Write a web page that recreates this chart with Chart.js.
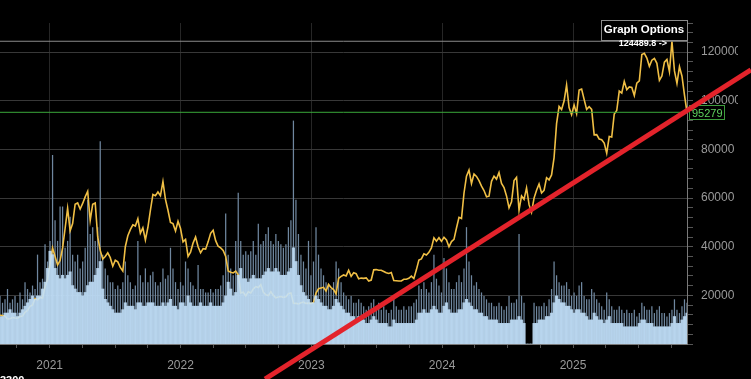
<!DOCTYPE html>
<html>
<head>
<meta charset="utf-8">
<script src="https://cdn.jsdelivr.net/npm/chart.js@4.4.0/dist/chart.umd.min.js"></script>
<style>
  html, body { margin: 0; padding: 0; background: #000; overflow: hidden; }
  #wrap { width: 751px; height: 379px; }
</style>
</head>
<body>
<div id="wrap"><canvas id="priceChart" width="751" height="379"></canvas></div>
<script>
// weekly samples, first week is 2020-08-15
const firstWeek = [2020, 7, 15];

// price (USD), weekly
const price = [
  // 2020
  11800, 11700, 11500, 10300, 10400, 10900, 10700, 10600, 11300, 11500, 13000, 13800, 15500, 16000, 18700, 18200, 19100, 18900, 23500, 26500,
  // 2021
  33000, 39500, 36000, 32500, 34300, 39500, 47500, 55800, 46500, 49500, 57500, 58000, 55500, 57800, 60500, 62800, 50800,
  57500, 58000, 44000, 38500, 35000, 36000, 37500, 35500, 32000, 34500, 33800, 31500, 30000, 40000, 44500, 47000, 49000, 48500,
  51500, 45500, 47800, 42800, 48000, 55000, 61500, 61000, 62500, 61000, 66800, 59500, 55000, 50000, 49500, 46500, 50500,
  // 2022
  47500, 42000, 43000, 36000, 37800, 41500, 44000, 40000, 37500, 39200, 39000, 42000, 45500, 46800, 42500, 40200, 39500, 38500,
  36000, 30000, 29500, 29200, 30000, 28500, 21000, 21300, 19800, 21500, 21000, 22600, 23600, 23200, 24400, 21300, 20200,
  19900, 21500, 20000, 19000, 19300, 19500, 19200, 19400, 20700, 21000, 16800, 16700, 16500, 17000, 17200, 16700, 16800, 16600,
  // 2023
  17000, 20900, 22700, 23000, 23300, 21800, 24500, 23200, 22400, 20600, 27000, 27800, 28400, 28000, 30300, 27800, 29300,
  28900, 26800, 27100, 27000, 27200, 25900, 26300, 30500, 30600, 30300, 30300, 29800, 29300, 29000, 29400, 26100, 26000,
  25900, 25900, 26600, 26600, 27000, 27900, 26900, 30500, 34500, 35000, 37100, 36600, 37700, 39500, 43700, 42300, 43700, 42200,
  // 2024
  43900, 42800, 40000, 42100, 43000, 47700, 52100, 51600, 62000, 69000, 71500, 66000, 69900, 68900, 67200, 64900, 63100,
  60500, 60800, 66900, 69000, 67800, 70500, 66000, 64300, 60900, 56000, 58500, 67200, 68500, 55000, 60900, 59500, 64200, 57300,
  54200, 60000, 63200, 65800, 62100, 63200, 68400, 67500, 69500, 76600, 90600, 97700, 96400, 99900, 106500, 97200, 94300,
  // 2025
  98300, 94700, 104400, 104800, 100600, 96500, 97600, 96500, 86000, 86100, 84300, 84000, 82600, 78500, 85300, 85100, 94600,
  96000, 104000, 103200, 108000, 104600, 105700, 105500, 102200, 107300, 108200, 119000, 119500, 117600,
  114200, 116700, 117400, 115400, 108400, 110200, 115900, 117000, 112000, 124489.8, 112300, 107200, 114000, 110100, 102300, 95279
];

// traded volume, weekly typical day (relative units)
const volBody = [
  8, 8, 9, 9, 10, 9, 9, 8, 9, 10, 11, 12, 13, 14, 13, 14, 14, 16, 18, 22,
  27, 26, 22, 20, 19, 20, 19, 20, 21, 17, 16, 15, 15, 14, 15, 17, 18, 18, 20, 22, 24, 16, 13, 12, 11, 10, 9, 9, 9, 10, 12,
  11, 11, 11, 10, 12, 12, 11, 11, 12, 12, 12, 11, 11, 11, 12, 11, 12, 13, 11, 11, 10,
  12, 12, 11, 14, 12, 11, 11, 11, 12, 11, 11, 11, 12, 11, 11, 11, 11, 12, 14, 18, 16, 14, 15, 20, 22, 19, 19, 18, 19, 20, 19,
  19, 19, 20, 21, 22, 21, 21, 22, 21, 20, 20, 20, 21, 22, 28, 24, 20, 17, 15, 14, 13, 12,
  12, 14, 13, 12, 11, 11, 10, 10, 11, 13, 12, 11, 10, 9, 9, 8, 8, 7, 8, 7, 7, 6, 6, 7, 8, 7, 6, 6, 6, 6,
  5, 5, 7, 6, 6, 6, 6, 6, 6, 6, 6, 7, 9, 9, 10, 9, 9, 10, 11, 10, 9, 9,
  11, 12, 10, 9, 9, 9, 10, 10, 12, 13, 12, 11, 10, 10, 9, 9, 8, 8, 7, 7, 7, 7, 6, 6, 6, 6, 6, 7, 7, 7,
  8, 7, 6, 0, 0, 0, 6, 6, 7, 7, 7, 8, 8, 9, 12, 14, 13, 12, 12, 11, 11, 10,
  9, 10, 10, 9, 9, 8, 7, 7, 9, 8, 7, 7, 6, 7, 8, 6, 6, 6, 6, 6, 5, 5, 5, 5, 5, 5,
  6, 7, 7, 6, 6, 6, 5, 5, 5, 5, 5, 5, 5, 6, 8, 6, 6, 7, 8, 9
];

// traded volume, weekly busiest day (relative units)
const volPeak = [
  14, 12, 13, 16, 12, 13, 14, 12, 15, 13, 18, 16, 15, 17, 16, 26, 18, 19, 29, 24,
  30, 55, 36, 30, 40, 40, 28, 30, 37, 26, 24, 26, 22, 24, 28, 42, 32, 34, 30, 34, 59, 26, 22, 20, 18, 18, 16, 17, 16, 18, 24,
  20, 18, 16, 17, 30, 20, 18, 22, 18, 20, 21, 18, 17, 18, 22, 19, 20, 28, 22, 18, 16,
  18, 17, 24, 22, 18, 17, 16, 23, 16, 16, 15, 15, 16, 15, 16, 16, 17, 20, 38, 26, 22, 20, 30, 44, 30, 26, 27, 26, 27, 30, 26,
  35, 29, 30, 32, 34, 30, 29, 32, 30, 29, 28, 29, 34, 36, 65, 42, 32, 26, 24, 22, 30, 20,
  24, 34, 26, 22, 20, 18, 17, 16, 18, 24, 22, 18, 15, 14, 13, 14, 12, 12, 13, 12, 11, 10, 11, 12, 13, 11, 12, 10, 11, 10,
  9, 10, 14, 11, 10, 10, 11, 10, 11, 11, 12, 13, 17, 16, 18, 16, 15, 18, 26, 19, 17, 15,
  25, 22, 18, 16, 16, 18, 20, 18, 22, 34, 24, 20, 17, 18, 16, 15, 14, 13, 12, 12, 11, 11, 12, 11, 10, 11, 14, 12, 12, 13,
  32, 14, 12, 0, 0, 0, 12, 11, 11, 11, 12, 11, 13, 16, 24, 20, 18, 17, 17, 18, 16, 14,
  15, 14, 17, 18, 14, 13, 13, 16, 15, 13, 12, 11, 10, 15, 13, 11, 10, 10, 11, 10, 9, 10, 9, 9, 10, 8,
  9, 12, 11, 10, 10, 11, 9, 10, 11, 9, 9, 8, 9, 10, 13, 10, 9, 11, 13, 12
];

// support trend line, two anchors (year, USD)
const trendYears = [2022.646, 2026.36];
const trendValues = [-14400, 112750];

const yearLabels = [2021, 2022, 2023, 2024, 2025];

function yearFraction(d) {
  const y = d.getUTCFullYear();
  const a = Date.UTC(y, 0, 1), b = Date.UTC(y + 1, 0, 1);
  return y + (d.getTime() - a) / (b - a);
}

const weeks = price.map((_, i) => yearFraction(new Date(Date.UTC(firstWeek[0], firstWeek[1], firstWeek[2] + 7 * i))));
const xMin = weeks[0], xMax = weeks[weeks.length - 1];
const maxPrice = Math.max(...price);
const maxIdx = price.indexOf(maxPrice);
const lastPrice = price[price.length - 1];

const pts = (vals) => vals.map((v, i) => ({ x: weeks[i], y: v }));

// overlay bits: clipped axis edge, price tag, chart buttons
const overlays = {
  id: 'overlays',
  beforeDatasetsDraw(chart) {
    const c = chart.ctx;
    const y = chart.scales.y;
    c.save();
    c.fillStyle = '#000';
    c.fillRect(738, 0, chart.width - 738, chart.height);
    // last price tag
    const py = Math.round(y.getPixelForValue(lastPrice)) + 0.5;
    c.strokeStyle = '#3c9d3c';
    c.lineWidth = 1;
    c.strokeRect(689.5, py - 7, 35, 14);
    c.fillStyle = '#5fd35f';
    c.font = '11px "Liberation Sans", Arial, sans-serif';
    c.textBaseline = 'middle';
    c.textAlign = 'left';
    c.fillText(String(lastPrice), 692, py + 1);
    // cut-off label at the bottom
    c.fillStyle = '#fff';
    c.font = 'bold 11px "Liberation Sans", Arial, sans-serif';
    c.textBaseline = 'top';
    c.fillText('3300', 0, 375);
    c.restore();
  },
  afterDatasetsDraw(chart) {
    const c = chart.ctx;
    const x = chart.scales.x, y = chart.scales.y;
    c.save();
    // Graph Options box
    c.strokeStyle = '#8a8a8a';
    c.lineWidth = 1;
    c.strokeRect(601.5, 20.5, 86, 20);
    c.fillStyle = '#fff';
    c.font = 'bold 11.5px "Liberation Sans", Arial, sans-serif';
    c.textAlign = 'center';
    c.textBaseline = 'middle';
    c.fillText('Graph Options', 644, 30);
    // all-time high tag
    const hx = x.getPixelForValue(weeks[maxIdx]);
    const hy = y.getPixelForValue(maxPrice);
    c.font = 'bold 9px "Liberation Sans", Arial, sans-serif';
    c.textAlign = 'right';
    c.fillText(maxPrice.toFixed(1) + ' ->', hx - 5, hy + 2);
    c.restore();
  }
};

Chart.defaults.font.family = '"Liberation Sans", Arial, sans-serif';

new Chart(document.getElementById('priceChart'), {
  type: 'line',
  data: {
    datasets: [
      {
        type: 'line', label: 'Trend', order: -1, clip: false,
        data: trendYears.map((t, i) => ({ x: t, y: trendValues[i] })),
        borderColor: '#e3232b', borderWidth: 5, pointRadius: 0, xAxisID: 'x', yAxisID: 'y'
      },
      {
        type: 'line', label: 'High', order: 0,
        data: [{ x: xMin, y: maxPrice }, { x: xMax, y: maxPrice }],
        borderColor: '#8a8a8a', borderWidth: 1, pointRadius: 0, yAxisID: 'y'
      },
      {
        type: 'line', label: 'Last', order: 0,
        data: [{ x: xMin, y: lastPrice }, { x: xMax, y: lastPrice }],
        borderColor: '#3aa83a', borderWidth: 1, pointRadius: 0, yAxisID: 'y'
      },
      {
        type: 'bar', label: 'Volume', order: 1, grouped: false,
        data: pts(volBody), yAxisID: 'yv',
        backgroundColor: 'rgba(196,226,252,0.86)', borderWidth: 0,
        barPercentage: 1, categoryPercentage: 1
      },
      {
        type: 'line', label: 'Price', order: 2,
        data: pts(price), yAxisID: 'y',
        borderColor: '#f0bf45', borderWidth: 1.6, pointRadius: 0, tension: 0
      },
      {
        type: 'bar', label: 'Volume peak', order: 3, grouped: false,
        data: pts(volPeak), yAxisID: 'yv',
        backgroundColor: '#6f879f', borderWidth: 0,
        barPercentage: 0.5, categoryPercentage: 1
      }
    ]
  },
  options: {
    responsive: false,
    animation: false,
    devicePixelRatio: 1,
    layout: { padding: { top: 23, left: 0, right: 0, bottom: 0 } },
    plugins: { legend: { display: false }, tooltip: { enabled: false } },
    scales: {
      x: {
        type: 'linear', min: xMin, max: xMax, offset: false,
        afterFit: (s) => { s.height = 35; },
        grid: {
          offset: false,
          color: (ctx) => ctx.tick && yearLabels.includes(ctx.tick.value) ? '#262626' : 'rgba(0,0,0,0)',
          tickColor: '#555', tickLength: 4
        },
        border: { color: '#7a7a7a' },
        ticks: {
          stepSize: 0.25, includeBounds: false, autoSkip: false, maxRotation: 0,
          color: '#9a9a9a', font: { size: 12 }, padding: 10,
          callback: (v) => yearLabels.includes(v) ? String(v) : ''
        }
      },
      y: {
        type: 'linear', position: 'right', min: 0, max: 132000,
        afterFit: (s) => { s.width = 64; },
        grid: {
          color: (ctx) => ctx.tick && ctx.tick.value > 0 && ctx.tick.value % 20000 === 0 ? '#383838' : 'rgba(0,0,0,0)',
          tickColor: '#555', tickLength: 6
        },
        border: { color: '#7a7a7a' },
        ticks: {
          stepSize: 4000, includeBounds: false, autoSkip: false,
          color: '#9a9a9a', font: { size: 12 }, padding: 8,
          callback: (v) => v > 0 && v <= 120000 && v % 20000 === 0 ? String(v) : ''
        }
      },
      yv: { type: 'linear', display: false, min: 0, max: 93.4 }
    }
  },
  plugins: [overlays]
});
</script>
</body>
</html>
